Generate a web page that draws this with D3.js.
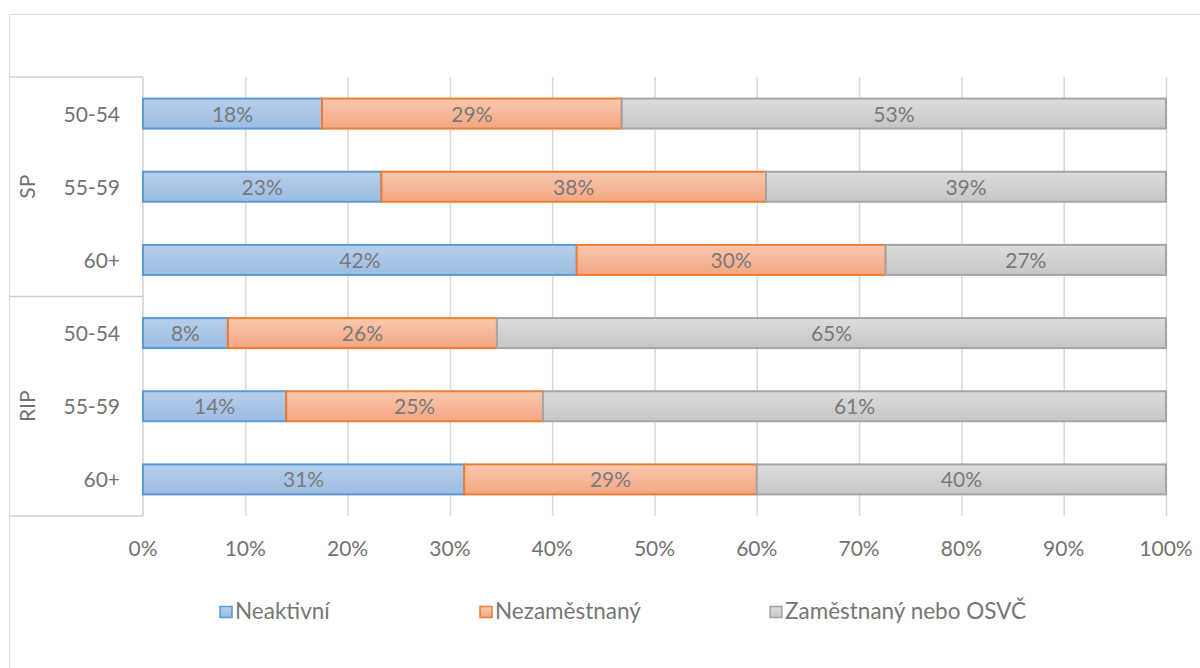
<!DOCTYPE html>
<html>
<head>
<meta charset="utf-8">
<title>Stacked bars</title>
<script src="https://d3js.org/d3.v7.min.js"></script>
<style>
  body { margin: 0; background: #fff; }
  text { font-family: Lato, "Open Sans", sans-serif; }
</style>
</head>
<body>
<div id="chart"></div>
<script>
// data
var groups = ["SP", "SP", "SP", "RIP", "RIP", "RIP"];
var ages = ["50-54", "55-59", "60+", "50-54", "55-59", "60+"];
var seriesNames = ["Neaktivní", "Nezaměstnaný", "Zaměstnaný nebo OSVČ"];
var neaktivni = [17.5, 23.3, 42.4, 8.3, 14.0, 31.4];
var nezamestnany = [29.3, 37.6, 30.2, 26.3, 25.1, 28.6];
var zamestnany = [53.2, 39.1, 27.4, 65.4, 60.9, 40.0];
var xTicks = [0, 10, 20, 30, 40, 50, 60, 70, 80, 90, 100];

var W = 1200, H = 668;
var pLeft = 143, pRight = 1166, pTop = 77, pBottom = 516;

var svg = d3.select("#chart").append("svg")
    .attr("width", W).attr("height", H);

// gradients
var fills = [
    { id: "gBlue", c1: "#b7cfeb", c2: "#9bbce3", stroke: "#5b9bd5" },
    { id: "gOrange", c1: "#f9c8ae", c2: "#f4a682", stroke: "#ed7d31" },
    { id: "gGray", c1: "#dcdcdc", c2: "#c6c6c6", stroke: "#a5a5a5" }
];
var defs = svg.append("defs");
fills.forEach(function(f) {
    var g = defs.append("linearGradient").attr("id", f.id)
        .attr("x1", 0).attr("y1", 0).attr("x2", 0).attr("y2", 1);
    g.append("stop").attr("offset", "0%").attr("stop-color", f.c1);
    g.append("stop").attr("offset", "100%").attr("stop-color", f.c2);
});

// outer chart frame
svg.append("rect").attr("x", 9.5).attr("y", 14.5)
    .attr("width", W + 20).attr("height", H + 20)
    .attr("fill", "none").attr("stroke", "#d9d9d9");

var x = d3.scaleLinear().domain([0, 100]).range([pLeft, pRight]);
var y = d3.scaleBand().domain(d3.range(ages.length)).range([pTop, pBottom])
    .paddingInner(0.59).paddingOuter(0.295);

// gridlines
svg.append("g").selectAll("line").data(xTicks.slice(1)).enter().append("line")
    .attr("x1", function(d) { return x(d) + 0.5; })
    .attr("x2", function(d) { return x(d) + 0.5; })
    .attr("y1", pTop).attr("y2", pBottom)
    .attr("stroke", "#d9d9d9").attr("stroke-width", 1.5);

// tick labels
svg.append("g").selectAll("text").data(xTicks).enter().append("text")
    .attr("x", function(d) { return x(d); })
    .attr("y", 556)
    .attr("text-anchor", "middle")
    .attr("font-size", 21).attr("fill", "#727272")
    .text(function(d) { return d + "%"; });

// category table lines
var tbl = svg.append("g").attr("stroke", "#d0d0d0").attr("stroke-width", 1.5);
var groupEdges = [pTop, (pTop + pBottom) / 2, pBottom];
groupEdges.forEach(function(yy) {
    tbl.append("line").attr("x1", 9).attr("x2", pLeft).attr("y1", yy).attr("y2", yy);
});
tbl.append("line").attr("x1", pLeft).attr("x2", pLeft).attr("y1", pTop).attr("y2", pBottom);

// stacked data
var rows = ages.map(function(a, i) {
    return [neaktivni[i], nezamestnany[i], zamestnany[i]];
});

var barG = svg.append("g");
rows.forEach(function(vals, i) {
    var cum = 0;
    vals.forEach(function(v, j) {
        var x0 = x(cum), x1 = x(cum + v);
        cum += v;
        barG.append("rect")
            .attr("x", x0).attr("y", y(i))
            .attr("width", x1 - x0).attr("height", y.bandwidth())
            .attr("fill", "url(#" + fills[j].id + ")")
            .attr("stroke", fills[j].stroke).attr("stroke-width", 2);
        barG.append("text")
            .attr("x", (x0 + x1) / 2).attr("y", y(i) + y.bandwidth() / 2 + 8)
            .attr("text-anchor", "middle")
            .attr("font-size", 21).attr("fill", "#7a7a7a")
            .text(Math.round(v) + "%");
    });
});

// category labels
svg.append("g").selectAll("text").data(ages).enter().append("text")
    .attr("x", 120)
    .attr("y", function(d, i) { return y(i) + y.bandwidth() / 2 + 8; })
    .attr("text-anchor", "end")
    .attr("font-size", 21).attr("fill", "#727272")
    .text(function(d) { return d; });

// group labels
var groupNames = ["SP", "RIP"];
groupNames.forEach(function(g) {
    var idx = groups.map(function(d, i) { return d === g ? i : -1; })
        .filter(function(i) { return i >= 0; });
    var cy = (y(idx[0]) + y(idx[idx.length - 1]) + y.bandwidth()) / 2;
    svg.append("text")
        .attr("transform", "translate(35," + cy + ") rotate(-90)")
        .attr("text-anchor", "middle")
        .attr("font-size", 21).attr("fill", "#727272")
        .text(g);
});

// legend
var legX = [219, 479, 769];
var leg = svg.append("g");
seriesNames.forEach(function(s, j) {
    leg.append("rect").attr("x", legX[j] + 1).attr("y", 606.5)
        .attr("width", 12).attr("height", 11)
        .attr("fill", "url(#" + fills[j].id + ")")
        .attr("stroke", fills[j].stroke).attr("stroke-width", 1.5);
    leg.append("text").attr("x", legX[j] + 16).attr("y", 619)
        .attr("font-size", 22.5).attr("fill", "#767676")
        .text(s);
});
</script>
</body>
</html>
